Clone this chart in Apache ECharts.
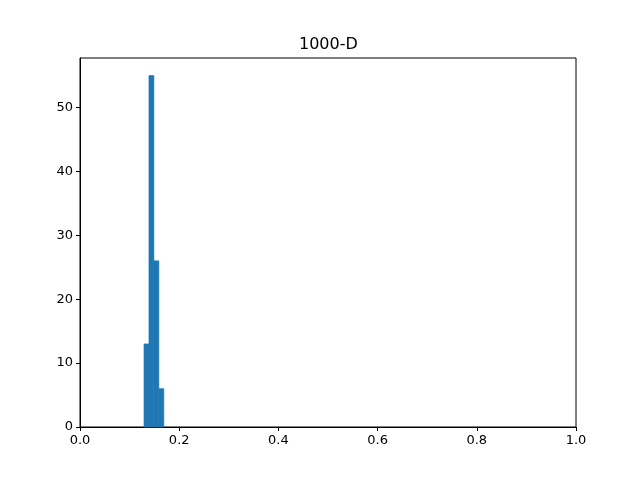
<!DOCTYPE html>
<html>
<head>
<meta charset="utf-8">
<script src="https://cdn.jsdelivr.net/npm/echarts@6/dist/echarts.min.js"></script>
<style>
  html, body { margin: 0; padding: 0; background: #fff; }
  #chart { width: 640px; height: 480px; }
</style>
</head>
<body>
<div id="chart"></div>
<script>
  // histogram bins (left edge, right edge) and counts
  var binStarts = [0.129, 0.139, 0.149, 0.159];
  var binEnds = [0.139, 0.149, 0.159, 0.169];
  var counts = [13, 55, 26, 6];
  var xTicks = [0, 0.2, 0.4, 0.6, 0.8, 1.0];
  var yTicks = [0, 10, 20, 30, 40, 50];

  var chart = echarts.init(document.getElementById('chart'));
  var font = 'DejaVu Sans';

  var data = counts.map(function (c, i) {
    return [binStarts[i], binEnds[i], c];
  });

  chart.setOption({
    animation: false,
    title: {
      text: '1000-D',
      left: 294,
      top: 32,
      textStyle: { fontFamily: font, fontSize: 16, fontWeight: 'normal', color: '#000' }
    },
    grid: {
      left: 80, right: 64, top: 58, bottom: 53,
      show: true, borderColor: '#000', borderWidth: 1
    },
    xAxis: {
      type: 'value',
      min: 0, max: 1, interval: 0.2,
      splitLine: { show: false },
      axisLine: { show: true, onZero: false, lineStyle: { color: '#000' } },
      axisTick: { show: true, length: 4, lineStyle: { color: '#000' }, customValues: xTicks },
      axisLabel: {
        color: '#000', fontFamily: font, fontSize: 13, margin: 7,
        customValues: xTicks,
        formatter: function (v) { return v.toFixed(1); }
      }
    },
    yAxis: {
      type: 'value',
      min: 0, max: 57.75,
      splitLine: { show: false },
      axisLine: { show: true, lineStyle: { color: '#000' } },
      axisTick: { show: true, length: 4, lineStyle: { color: '#000' }, customValues: yTicks },
      axisLabel: {
        color: '#000', fontFamily: font, fontSize: 13, margin: 7,
        customValues: yTicks
      }
    },
    series: [{
      type: 'custom',
      data: data,
      encode: { x: [0, 1], y: 2 },
      renderItem: function (params, api) {
        var p0 = api.coord([api.value(0), api.value(2)]);
        var p1 = api.coord([api.value(1), 0]);
        return {
          type: 'rect',
          shape: { x: p0[0], y: p0[1], width: p1[0] - p0[0], height: p1[1] - p0[1] },
          style: { fill: '#1f77b4', stroke: '#1f77b4', lineWidth: 0.6 }
        };
      }
    }]
  });
</script>
</body>
</html>
